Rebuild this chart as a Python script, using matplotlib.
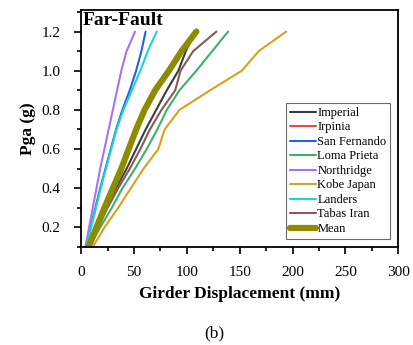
import matplotlib
matplotlib.use("Agg")
import matplotlib.pyplot as plt
from matplotlib.ticker import MultipleLocator

plt.rcParams['font.family'] = ['Liberation Serif', 'DejaVu Serif']

# PGA levels (g)
pga = [0.1, 0.2, 0.3, 0.4, 0.5, 0.6, 0.7, 0.8, 0.9, 1.0, 1.1, 1.2]

# girder displacement (mm)
imperial     = [7, 15, 24, 33, 43, 52, 61, 71, 81, 92, 99, 108]
irpinia      = [7, 14.5, 22, 30, 38, 44, 51, 59, 70, 83, 94, 107]
san_fernando = [4.5, 9, 13.5, 18, 23, 28, 33, 39, 46, 52, 57, 61]
loma_prieta  = [8, 18, 29, 39, 51, 62, 72, 81, 93, 109, 124, 139]
northridge   = [4, 7.5, 11, 14.5, 18, 22, 26, 30, 34, 38, 43, 51]
kobe_japan   = [11, 22, 35, 47, 59, 73, 79, 93, 122, 152, 168, 194]
landers      = [5, 9.5, 14, 18.5, 23.5, 28.5, 33.5, 40, 48, 56, 63, 71.5]
tabas_iran   = [7, 16, 25, 35, 46, 56, 65, 76, 89, 94, 106, 128]
mean         = [7, 14.5, 22, 30, 38, 45, 52, 60, 70, 83, 95, 109]

series = [
    ("Imperial", imperial, "#3c3c3c", 1.5),
    ("Irpinia", irpinia, "#f04646", 1.5),
    ("San Fernando", san_fernando, "#1f66e0", 1.5),
    ("Loma Prieta", loma_prieta, "#3fb06a", 1.5),
    ("Northridge", northridge, "#a874ec", 1.5),
    ("Kobe Japan", kobe_japan, "#d9a21c", 1.5),
    ("Landers", landers, "#1fd2d8", 1.5),
    ("Tabas Iran", tabas_iran, "#8a5858", 1.5),
    ("Mean", mean, "#8c8c00", 4.5),
]

fig = plt.figure(figsize=(4.14, 3.45), dpi=100)
ax = fig.add_axes([0.196, 0.284, 0.766, 0.687])

for name, vals, color, lw in series:
    ax.plot(vals, pga, color=color, lw=lw, label=name, solid_capstyle='round')

ax.set_xlim(0, 300)
ax.set_ylim(0.1, 1.31)
ax.xaxis.set_major_locator(MultipleLocator(50))
ax.xaxis.set_minor_locator(MultipleLocator(25))
ax.yaxis.set_minor_locator(MultipleLocator(0.1))
ax.set_yticks([0.2, 0.4, 0.6, 0.8, 1.0, 1.2])
ax.tick_params(which='major', direction='out', length=5, width=1.2, labelsize=11)
ax.tick_params(axis='x', which='major', pad=9)
ax.tick_params(axis='y', which='major', pad=10)
ax.tick_params(which='minor', direction='out', length=3, width=1.2)
for s in ax.spines.values():
    s.set_linewidth(1.3)

ax.set_xlabel("Girder Displacement (mm)", fontsize=12.5, fontweight='bold', labelpad=5)
ax.set_ylabel("Pga (g)", fontsize=12.5, fontweight='bold', labelpad=4)
ax.text(0.005, 0.99, "Far-Fault", transform=ax.transAxes, ha='left', va='top',
        fontsize=14, fontweight='bold')

leg = ax.legend(loc='lower right', bbox_to_anchor=(0.975, 0.035), fontsize=9,
                frameon=True, fancybox=False, edgecolor='#444444',
                handlelength=2.1, handletextpad=0.1, labelspacing=0.2,
                borderpad=0.3, borderaxespad=0)
leg.get_frame().set_linewidth(0.8)

fig.text(0.517, 0.035, "(b)", ha='center', va='center', fontsize=12.5)

fig.savefig("out.png", dpi=100)
